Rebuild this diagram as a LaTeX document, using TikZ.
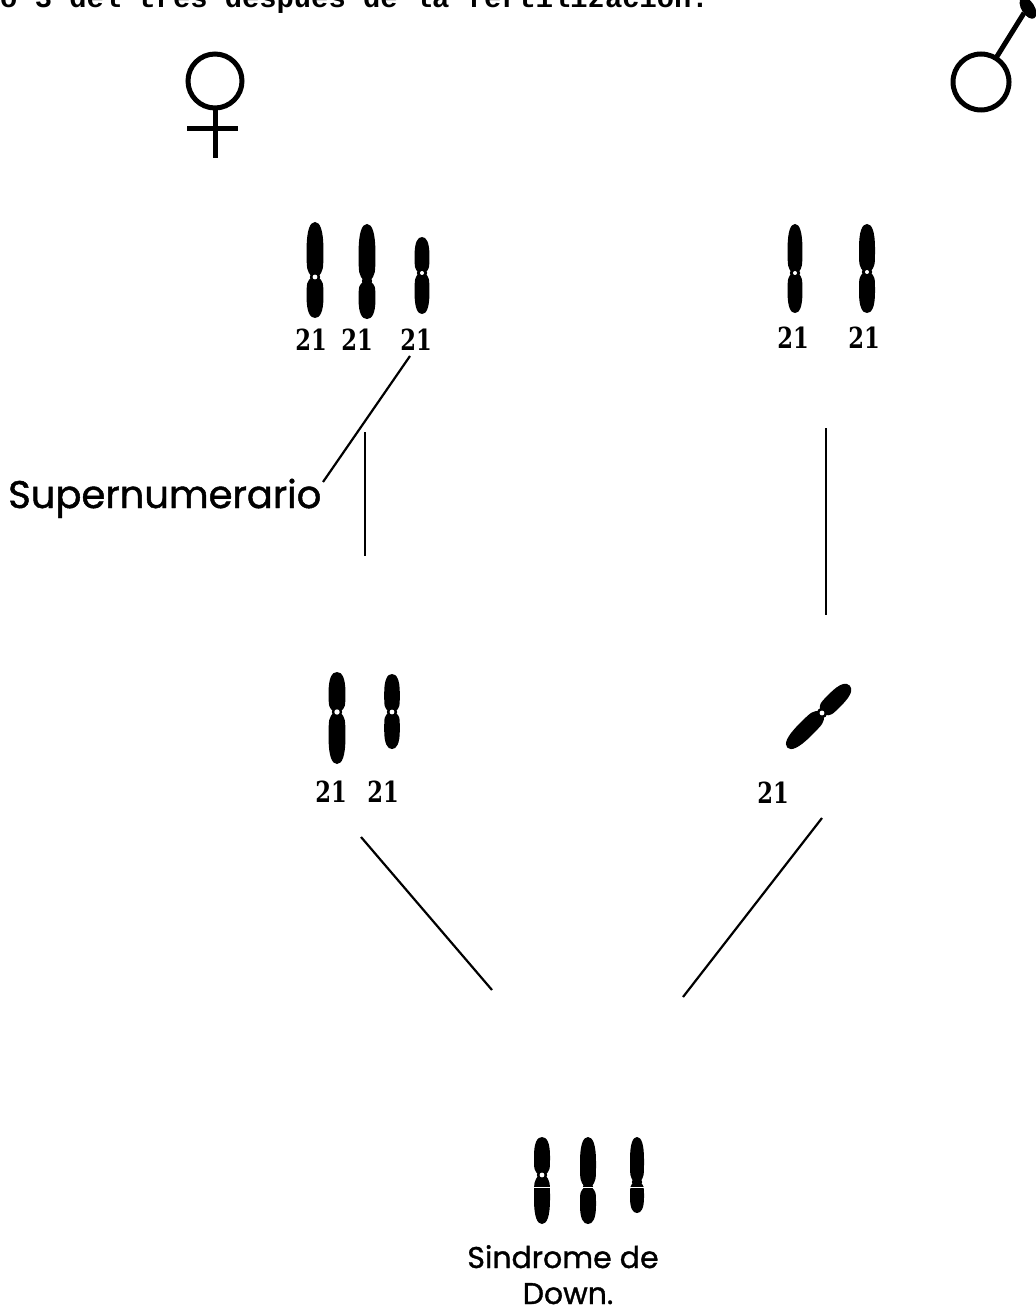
\documentclass[tikz,border=0pt]{standalone}
\usepackage{graphicx}
\usepackage{fontspec}
\newfontfamily\typewriter{Liberation Mono}
\newfontfamily\lettering{Poppins}[FakeBold=1.2]
\newfontfamily\numfont{DejaVu Serif}
\begin{document}
\begin{tikzpicture}[x=1pt,y=-1pt,
  link/.style={draw=black,line width=2.2pt},
  sexsym/.style={draw=black,line width=5pt},
  num/.style={font=\numfont\bfseries\fontsize{29}{29}\selectfont,inner sep=0pt},
  caption/.style={font=\lettering\fontsize{38.5}{38.5}\selectfont,inner sep=0pt},
  smallcap/.style={font=\lettering\fontsize{30}{30}\selectfont,inner sep=0pt},
  % chromosome: upper arm length, lower arm length, half width, hole radius
  pics/chromo/.style n args={4}{code={
    \fill[black] (-3,0) .. controls ({-#3},{-0.12*#1}) .. ({-#3},{-0.5*#1})
      .. controls ({-#3},{-0.85*#1}) and ({-0.6*#3},{-1.0*#1}) .. (0,{-#1})
      .. controls ({0.6*#3},{-1.0*#1}) and ({#3},{-0.85*#1}) .. ({#3},{-0.5*#1})
      .. controls ({#3},{-0.12*#1}) .. (3,0) -- cycle;
    \fill[black] (-3,0) .. controls ({-#3},{0.12*#2}) .. ({-#3},{0.5*#2})
      .. controls ({-#3},{0.85*#2}) and ({-0.6*#3},{1.0*#2}) .. (0,{#2})
      .. controls ({0.6*#3},{1.0*#2}) and ({#3},{0.85*#2}) .. ({#3},{0.5*#2})
      .. controls ({#3},{0.12*#2}) .. (3,0) -- cycle;
    \fill[black] (0,0) circle (5.2);
    \fill[white] (0,0) circle (#4);
  }}
]
\useasboundingbox (0,0) rectangle (1035,1313);

% heading line, running off the top edge
\begin{scope}
  \clip (0,0) rectangle (1035,1313);
  \node[anchor=base west,inner sep=0pt,font=\typewriter\bfseries\fontsize{28.8}{28.8}\selectfont]
    (heading) at (0,8) {o 3 del tres después de la fertilización.};
\end{scope}

% female symbol
\draw[sexsym] (215,81) circle (27);
\draw[sexsym] (215,108) -- (215,158);
\draw[sexsym] (187,129) -- (238,129);

% male symbol
\draw[sexsym] (981,82) circle (28);
\draw[sexsym] (996,58) -- (1024,13);
\fill[black,rotate around={-58:(1028,8)}] (1028,8) ellipse [x radius=12, y radius=6.5];

% mother: three chromosomes 21
\pic at (315,277) {chromo={55}{41}{8.4}{2.4}};
\pic at (367,281) {chromo={57}{38}{8.4}{0}};
\pic at (422,273) {chromo={36}{41}{7.4}{2}};
\node[num] (m1) at (311,340) {\scalebox{0.78}[1]{21}};
\node[num] (m2) at (357,340) {\scalebox{0.78}[1]{21}};
\node[num] (m3) at (416,340) {\scalebox{0.78}[1]{21}};

% father: two chromosomes 21
\pic at (795,273) {chromo={49}{40}{7.4}{2}};
\pic at (867,272) {chromo={48}{41}{8}{2}};
\node[num] (f1) at (793,338) {\scalebox{0.78}[1]{21}};
\node[num] (f2) at (864,338) {\scalebox{0.78}[1]{21}};

% supernumerary label
\node[caption,anchor=base west] (super) at (8,508) {Supernumerario};
\coordinate (superTip) at (323,482);
\coordinate (m3foot) at (410,356);
\draw[link] (superTip) -- (m3foot);

% meiosis lines
\coordinate (mTop) at (365,432);
\coordinate (mBot) at (365,556);
\coordinate (fTop) at (826,428);
\coordinate (fBot) at (826,615);
\draw[link] (mTop) -- (mBot);
\draw[link] (fTop) -- (fBot);

% gametes
\pic at (337,712) {chromo={40}{52}{8.4}{2.7}};
\pic at (392,712) {chromo={38}{37}{7.8}{2.4}};
\node[num] (g1) at (331,792) {\scalebox{0.78}[1]{21}};
\node[num] (g2) at (383,792) {\scalebox{0.78}[1]{21}};
\pic[rotate=-45] at (822,713) {chromo={39}{49}{8.4}{2.4}};
\node[num] (g3) at (773,793) {\scalebox{0.78}[1]{21}};

% fertilization lines
\coordinate (eggA) at (361,837);
\coordinate (eggB) at (492,990);
\coordinate (spermA) at (822,818);
\coordinate (spermB) at (683,997);
\draw[link] (eggA) -- (eggB);
\draw[link] (spermA) -- (spermB);

% trisomy 21
\pic at (542,1175) {chromo={38}{49}{8}{2.4}};
\pic at (588,1187) {chromo={50}{37}{8}{0}};
\pic at (637,1182) {chromo={45}{31}{7}{0}};
\draw[white,line width=0.8pt] (530,1187) -- (650,1187);
\node[smallcap,anchor=base] (syn1) at (563,1268) {Sindrome de};
\node[smallcap,anchor=base] (syn2) at (568,1304) {Down.};
\end{tikzpicture}
\end{document}
